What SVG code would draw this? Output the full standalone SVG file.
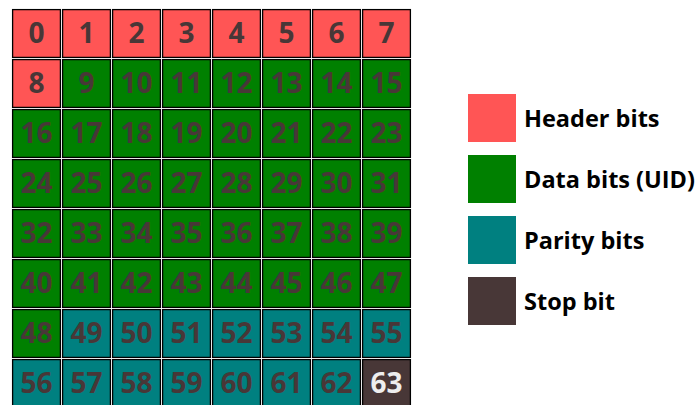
<svg xmlns="http://www.w3.org/2000/svg" width="695" height="405" viewBox="0 0 695 405">
<style>
.c rect{stroke:#000;stroke-width:1.3}
.c text{font-family:"Open Sans","Noto Sans",sans-serif;font-weight:bold;font-size:28px;fill:#483737;text-anchor:middle}
.h rect{fill:#ff5555}
.d rect{fill:#008000}
.p rect{fill:#008080}
.s rect{fill:#483737}
.s text{fill:#eeeeee}
.lg text{font-family:"Open Sans","Noto Sans",sans-serif;font-weight:bold;font-size:23.5px;fill:#000}
</style>
<rect width="695" height="405" fill="#fff"/>
<g id="grid">
<g id="b0" class="c h"><rect x="12.6" y="9.6" width="47.8" height="47.8"/><text x="36.5" y="43">0</text></g>
<g id="b1" class="c h"><rect x="62.6" y="9.6" width="47.8" height="47.8"/><text x="86.5" y="43">1</text></g>
<g id="b2" class="c h"><rect x="112.6" y="9.6" width="47.8" height="47.8"/><text x="136.5" y="43">2</text></g>
<g id="b3" class="c h"><rect x="162.6" y="9.6" width="47.8" height="47.8"/><text x="186.5" y="43">3</text></g>
<g id="b4" class="c h"><rect x="212.6" y="9.6" width="47.8" height="47.8"/><text x="236.5" y="43">4</text></g>
<g id="b5" class="c h"><rect x="262.6" y="9.6" width="47.8" height="47.8"/><text x="286.5" y="43">5</text></g>
<g id="b6" class="c h"><rect x="312.6" y="9.6" width="47.8" height="47.8"/><text x="336.5" y="43">6</text></g>
<g id="b7" class="c h"><rect x="362.6" y="9.6" width="47.8" height="47.8"/><text x="386.5" y="43">7</text></g>
<g id="b8" class="c h"><rect x="12.6" y="59.6" width="47.8" height="47.8"/><text x="36.5" y="93">8</text></g>
<g id="b9" class="c d"><rect x="62.6" y="59.6" width="47.8" height="47.8"/><text x="86.5" y="93">9</text></g>
<g id="b10" class="c d"><rect x="112.6" y="59.6" width="47.8" height="47.8"/><text x="136.5" y="93">10</text></g>
<g id="b11" class="c d"><rect x="162.6" y="59.6" width="47.8" height="47.8"/><text x="186.5" y="93">11</text></g>
<g id="b12" class="c d"><rect x="212.6" y="59.6" width="47.8" height="47.8"/><text x="236.5" y="93">12</text></g>
<g id="b13" class="c d"><rect x="262.6" y="59.6" width="47.8" height="47.8"/><text x="286.5" y="93">13</text></g>
<g id="b14" class="c d"><rect x="312.6" y="59.6" width="47.8" height="47.8"/><text x="336.5" y="93">14</text></g>
<g id="b15" class="c d"><rect x="362.6" y="59.6" width="47.8" height="47.8"/><text x="386.5" y="93">15</text></g>
<g id="b16" class="c d"><rect x="12.6" y="109.6" width="47.8" height="47.8"/><text x="36.5" y="143">16</text></g>
<g id="b17" class="c d"><rect x="62.6" y="109.6" width="47.8" height="47.8"/><text x="86.5" y="143">17</text></g>
<g id="b18" class="c d"><rect x="112.6" y="109.6" width="47.8" height="47.8"/><text x="136.5" y="143">18</text></g>
<g id="b19" class="c d"><rect x="162.6" y="109.6" width="47.8" height="47.8"/><text x="186.5" y="143">19</text></g>
<g id="b20" class="c d"><rect x="212.6" y="109.6" width="47.8" height="47.8"/><text x="236.5" y="143">20</text></g>
<g id="b21" class="c d"><rect x="262.6" y="109.6" width="47.8" height="47.8"/><text x="286.5" y="143">21</text></g>
<g id="b22" class="c d"><rect x="312.6" y="109.6" width="47.8" height="47.8"/><text x="336.5" y="143">22</text></g>
<g id="b23" class="c d"><rect x="362.6" y="109.6" width="47.8" height="47.8"/><text x="386.5" y="143">23</text></g>
<g id="b24" class="c d"><rect x="12.6" y="159.6" width="47.8" height="47.8"/><text x="36.5" y="193">24</text></g>
<g id="b25" class="c d"><rect x="62.6" y="159.6" width="47.8" height="47.8"/><text x="86.5" y="193">25</text></g>
<g id="b26" class="c d"><rect x="112.6" y="159.6" width="47.8" height="47.8"/><text x="136.5" y="193">26</text></g>
<g id="b27" class="c d"><rect x="162.6" y="159.6" width="47.8" height="47.8"/><text x="186.5" y="193">27</text></g>
<g id="b28" class="c d"><rect x="212.6" y="159.6" width="47.8" height="47.8"/><text x="236.5" y="193">28</text></g>
<g id="b29" class="c d"><rect x="262.6" y="159.6" width="47.8" height="47.8"/><text x="286.5" y="193">29</text></g>
<g id="b30" class="c d"><rect x="312.6" y="159.6" width="47.8" height="47.8"/><text x="336.5" y="193">30</text></g>
<g id="b31" class="c d"><rect x="362.6" y="159.6" width="47.8" height="47.8"/><text x="386.5" y="193">31</text></g>
<g id="b32" class="c d"><rect x="12.6" y="209.6" width="47.8" height="47.8"/><text x="36.5" y="243">32</text></g>
<g id="b33" class="c d"><rect x="62.6" y="209.6" width="47.8" height="47.8"/><text x="86.5" y="243">33</text></g>
<g id="b34" class="c d"><rect x="112.6" y="209.6" width="47.8" height="47.8"/><text x="136.5" y="243">34</text></g>
<g id="b35" class="c d"><rect x="162.6" y="209.6" width="47.8" height="47.8"/><text x="186.5" y="243">35</text></g>
<g id="b36" class="c d"><rect x="212.6" y="209.6" width="47.8" height="47.8"/><text x="236.5" y="243">36</text></g>
<g id="b37" class="c d"><rect x="262.6" y="209.6" width="47.8" height="47.8"/><text x="286.5" y="243">37</text></g>
<g id="b38" class="c d"><rect x="312.6" y="209.6" width="47.8" height="47.8"/><text x="336.5" y="243">38</text></g>
<g id="b39" class="c d"><rect x="362.6" y="209.6" width="47.8" height="47.8"/><text x="386.5" y="243">39</text></g>
<g id="b40" class="c d"><rect x="12.6" y="259.6" width="47.8" height="47.8"/><text x="36.5" y="293">40</text></g>
<g id="b41" class="c d"><rect x="62.6" y="259.6" width="47.8" height="47.8"/><text x="86.5" y="293">41</text></g>
<g id="b42" class="c d"><rect x="112.6" y="259.6" width="47.8" height="47.8"/><text x="136.5" y="293">42</text></g>
<g id="b43" class="c d"><rect x="162.6" y="259.6" width="47.8" height="47.8"/><text x="186.5" y="293">43</text></g>
<g id="b44" class="c d"><rect x="212.6" y="259.6" width="47.8" height="47.8"/><text x="236.5" y="293">44</text></g>
<g id="b45" class="c d"><rect x="262.6" y="259.6" width="47.8" height="47.8"/><text x="286.5" y="293">45</text></g>
<g id="b46" class="c d"><rect x="312.6" y="259.6" width="47.8" height="47.8"/><text x="336.5" y="293">46</text></g>
<g id="b47" class="c d"><rect x="362.6" y="259.6" width="47.8" height="47.8"/><text x="386.5" y="293">47</text></g>
<g id="b48" class="c d"><rect x="12.6" y="309.6" width="47.8" height="47.8"/><text x="36.5" y="343">48</text></g>
<g id="b49" class="c p"><rect x="62.6" y="309.6" width="47.8" height="47.8"/><text x="86.5" y="343">49</text></g>
<g id="b50" class="c p"><rect x="112.6" y="309.6" width="47.8" height="47.8"/><text x="136.5" y="343">50</text></g>
<g id="b51" class="c p"><rect x="162.6" y="309.6" width="47.8" height="47.8"/><text x="186.5" y="343">51</text></g>
<g id="b52" class="c p"><rect x="212.6" y="309.6" width="47.8" height="47.8"/><text x="236.5" y="343">52</text></g>
<g id="b53" class="c p"><rect x="262.6" y="309.6" width="47.8" height="47.8"/><text x="286.5" y="343">53</text></g>
<g id="b54" class="c p"><rect x="312.6" y="309.6" width="47.8" height="47.8"/><text x="336.5" y="343">54</text></g>
<g id="b55" class="c p"><rect x="362.6" y="309.6" width="47.8" height="47.8"/><text x="386.5" y="343">55</text></g>
<g id="b56" class="c p"><rect x="12.6" y="359.6" width="47.8" height="47.8"/><text x="36.5" y="393">56</text></g>
<g id="b57" class="c p"><rect x="62.6" y="359.6" width="47.8" height="47.8"/><text x="86.5" y="393">57</text></g>
<g id="b58" class="c p"><rect x="112.6" y="359.6" width="47.8" height="47.8"/><text x="136.5" y="393">58</text></g>
<g id="b59" class="c p"><rect x="162.6" y="359.6" width="47.8" height="47.8"/><text x="186.5" y="393">59</text></g>
<g id="b60" class="c p"><rect x="212.6" y="359.6" width="47.8" height="47.8"/><text x="236.5" y="393">60</text></g>
<g id="b61" class="c p"><rect x="262.6" y="359.6" width="47.8" height="47.8"/><text x="286.5" y="393">61</text></g>
<g id="b62" class="c p"><rect x="312.6" y="359.6" width="47.8" height="47.8"/><text x="336.5" y="393">62</text></g>
<g id="b63" class="c s"><rect x="362.6" y="359.6" width="47.8" height="47.8"/><text x="386.5" y="393">63</text></g>
</g>
<g id="legend" class="lg">
<g id="lg-header"><rect x="468" y="94" width="48" height="48" fill="#ff5555"/><text x="524" y="126.7">Header bits</text></g>
<g id="lg-data"><rect x="468" y="155" width="48" height="48" fill="#008000"/><text x="524" y="187.7">Data bits (UID)</text></g>
<g id="lg-parity"><rect x="468" y="216" width="48" height="48" fill="#008080"/><text x="524" y="248.7">Parity bits</text></g>
<g id="lg-stop"><rect x="468" y="277" width="48" height="48" fill="#483737"/><text x="524" y="309.7">Stop bit</text></g>
</g>
</svg>
